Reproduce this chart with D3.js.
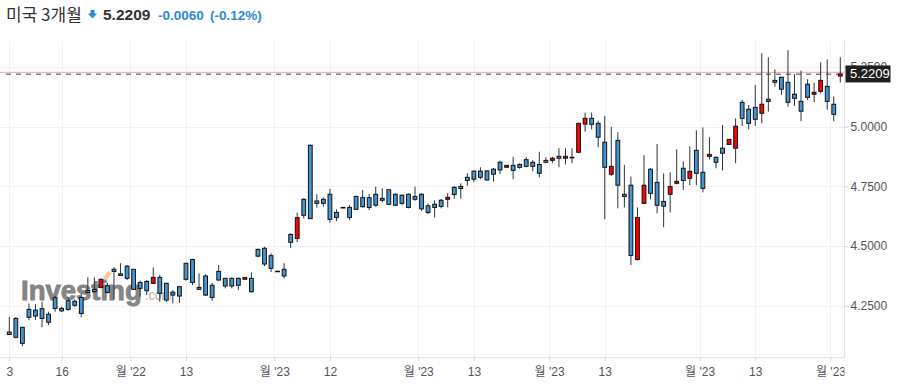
<!DOCTYPE html>
<html><head><meta charset="utf-8">
<script src="https://d3js.org/d3.v7.min.js"></script>
<style>
html,body{margin:0;padding:0;background:#fff;}
svg{display:block;}
</style></head><body>
<svg id="chart" width="897" height="385"></svg>
<script>
// ---- data ----
const open  = [4.140,4.197,4.160,4.235,4.232,4.238,4.215,4.284,4.239,4.271,
               4.269,4.285,4.315,4.319,4.327,4.334,4.403,4.384,4.416,4.403,
               4.348,4.352,4.344,4.369,4.344,4.307,4.330,4.428,4.444,4.327,
               4.375,4.336,4.394,4.365,4.365,4.365,4.361,4.365,4.486,4.491,
               4.460,4.395,4.403,4.549,4.532,4.696,4.922,4.689,4.696,4.717,
               4.641,4.662,4.662,4.708,4.703,4.703,4.717,4.700,4.736,4.717,
               4.713,4.717,4.708,4.717,4.669,4.675,4.692,4.696,4.746,4.750,
               4.788,4.814,4.814,4.815,4.822,4.851,4.830,4.838,4.842,4.862,
               4.851,4.842,4.859,4.859,4.876,4.868,4.872,4.893,5.011,5.035,
               5.014,4.935,4.801,4.943,4.717,4.755,4.444,4.679,4.822,4.767,
               4.687,4.717,4.763,4.826,4.784,4.901,4.809,4.876,4.872,4.910,
               4.926,4.910,5.102,5.073,5.081,5.056,5.115,5.194,5.207,5.186,
               5.136,5.106,5.178,5.136,5.148,5.169,5.094,5.212];
const high  = [4.204,4.203,4.161,4.260,4.257,4.267,4.225,4.291,4.246,4.285,
               4.277,4.302,4.369,4.369,4.365,4.346,4.411,4.428,4.421,4.404,
               4.355,4.358,4.411,4.379,4.347,4.316,4.334,4.430,4.447,4.386,
               4.382,4.346,4.421,4.367,4.369,4.369,4.369,4.390,4.491,4.497,
               4.470,4.395,4.428,4.553,4.640,4.700,4.926,4.717,4.703,4.740,
               4.654,4.662,4.672,4.711,4.735,4.718,4.749,4.742,4.738,4.721,
               4.717,4.721,4.749,4.721,4.679,4.692,4.697,4.721,4.752,4.763,
               4.805,4.817,4.830,4.815,4.827,4.858,4.838,4.874,4.847,4.872,
               4.860,4.895,4.872,4.874,4.910,4.910,4.910,5.017,5.059,5.059,
               5.025,5.045,5.000,4.977,4.840,4.791,4.662,4.881,4.826,4.928,
               4.805,4.809,4.905,4.855,4.918,4.985,4.997,4.956,4.874,5.007,
               4.947,5.035,5.112,5.091,5.175,5.308,5.291,5.240,5.209,5.321,
               5.220,5.235,5.199,5.184,5.270,5.282,5.127,5.291];
const low   = [4.127,4.114,4.081,4.190,4.190,4.160,4.169,4.225,4.224,4.229,
               4.246,4.202,4.302,4.305,4.323,4.302,4.277,4.375,4.358,4.316,
               4.288,4.295,4.341,4.267,4.266,4.260,4.263,4.355,4.337,4.316,
               4.291,4.271,4.354,4.323,4.323,4.316,4.361,4.305,4.453,4.416,
               4.391,4.395,4.365,4.492,4.516,4.616,4.613,4.661,4.665,4.598,
               4.605,4.662,4.609,4.651,4.661,4.651,4.665,4.683,4.673,4.668,
               4.672,4.658,4.690,4.647,4.634,4.620,4.658,4.662,4.698,4.698,
               4.752,4.768,4.780,4.774,4.770,4.802,4.830,4.780,4.824,4.830,
               4.813,4.788,4.847,4.847,4.830,4.842,4.847,4.889,4.979,4.989,
               4.914,4.612,4.793,4.658,4.662,4.421,4.439,4.676,4.696,4.637,
               4.579,4.641,4.759,4.735,4.755,4.755,4.725,4.863,4.826,4.817,
               4.923,4.847,5.003,4.989,5.003,5.014,5.063,5.168,5.133,5.084,
               5.087,5.023,5.112,5.102,5.140,5.071,5.023,5.186];
const close = [4.130,4.118,4.093,4.202,4.207,4.197,4.181,4.239,4.229,4.235,
               4.252,4.218,4.306,4.309,4.361,4.306,4.394,4.377,4.365,4.319,
               4.323,4.313,4.369,4.302,4.274,4.295,4.291,4.361,4.348,4.319,
               4.295,4.285,4.358,4.333,4.333,4.336,4.369,4.309,4.458,4.425,
               4.407,4.395,4.375,4.516,4.619,4.629,4.615,4.679,4.679,4.612,
               4.620,4.662,4.620,4.654,4.665,4.662,4.671,4.692,4.675,4.671,
               4.679,4.662,4.696,4.656,4.641,4.662,4.666,4.704,4.716,4.741,
               4.775,4.780,4.788,4.777,4.801,4.819,4.838,4.817,4.830,4.834,
               4.834,4.805,4.851,4.868,4.868,4.876,4.872,5.014,5.035,5.010,
               4.956,4.830,4.834,4.755,4.708,4.461,4.620,4.755,4.721,4.671,
               4.667,4.750,4.771,4.775,4.813,4.805,4.742,4.884,4.851,4.889,
               4.947,5.002,5.035,5.014,5.031,5.094,5.106,5.186,5.157,5.102,
               5.119,5.065,5.123,5.144,5.194,5.106,5.052,5.2209];
const yTicks = [4.25, 4.5, 4.75, 5.0, 5.25];
const xTickIndex  = [0, 8, 18.5, 27, 40.5, 49, 62.5, 71, 82.5, 91, 105.5, 114, 125.5];
const xTickLabels = ["3","16","월 '22","13","월 '23","12","월 '23","13","월 '23","13","월 '23","13","월 '23"];
const titleName = "미국 3개월";
const lastPrice = 5.2209;
const changeAbs = "-0.0060";
const changePct = "(-0.12%)";

// ---- chart ----
const svg = d3.select("#chart");
const n = close.length;
const plotRight = 844.5, plotTop = 41, plotBottom = 357;
const x = d3.scaleLinear().domain([0, n - 1]).range([9.3, 840.3]);
const y = d3.scaleLinear().domain([4.0356, 5.3589]).range([plotBottom, plotTop]);
const FONT = "'Liberation Sans', Arial, 'Noto Sans CJK KR', sans-serif";
const BLUE = "#4196d6", RED = "#ff0000";

// grid
svg.append("g").selectAll("line").data(yTicks).join("line")
  .attr("x1", 0).attr("x2", plotRight)
  .attr("y1", d => Math.round(y(d)) + 0.5).attr("y2", d => Math.round(y(d)) + 0.5)
  .attr("stroke", "#f1f1f1");
svg.append("g").selectAll("line").data(xTickIndex).join("line")
  .attr("x1", d => Math.round(x(d)) + 0.5).attr("x2", d => Math.round(x(d)) + 0.5)
  .attr("y1", plotTop).attr("y2", plotBottom)
  .attr("stroke", "#f1f1f1");

// watermark
const wm = svg.append("g");
wm.append("text").attr("x", 21).attr("y", 300)
  .attr("font-family", FONT).attr("font-weight", "bold").attr("font-size", 27.5)
  .attr("fill", "#858585").attr("stroke", "#858585").attr("stroke-width", 0.9)
  .text("Investing");
wm.append("text").attr("x", 145).attr("y", 300)
  .attr("font-family", FONT).attr("font-size", 15)
  .attr("textLength", 27).attr("lengthAdjust", "spacingAndGlyphs")
  .attr("fill", "#b0b0b0").text(".com");
wm.append("path").attr("d", "M103,278 L108,271 L112,273 L107,280 Z").attr("fill", "#f7c98c");

// axes lines
svg.append("line").attr("x1", plotRight).attr("x2", plotRight)
  .attr("y1", plotTop).attr("y2", plotBottom + 1).attr("stroke", "#e1e4ea");
svg.append("line").attr("x1", 0).attr("x2", plotRight)
  .attr("y1", plotBottom + 0.5).attr("y2", plotBottom + 0.5).attr("stroke", "#e1e4ea");

// price lines
const yp = y(lastPrice);
svg.append("line").attr("x1", 0).attr("x2", plotRight)
  .attr("y1", yp - 1.6).attr("y2", yp - 1.6).attr("stroke", "#f7b3b3").attr("stroke-width", 1.3);
svg.append("line").attr("x1", 6).attr("x2", plotRight)
  .attr("y1", yp + 0.3).attr("y2", yp + 0.3).attr("stroke", "#808080")
  .attr("stroke-width", 1.4).attr("stroke-dasharray", "5,5");

// candles
const idx = d3.range(n);
const cg = svg.append("g");
cg.selectAll("line.wick").data(idx).join("line").attr("class", "wick")
  .attr("x1", i => x(i)).attr("x2", i => x(i))
  .attr("y1", i => y(high[i])).attr("y2", i => y(low[i]))
  .attr("stroke", "#2e3338").attr("stroke-width", 1);
cg.selectAll("rect.body").data(idx).join("rect").attr("class", "body")
  .attr("x", i => x(i) - 1.9).attr("width", 3.8)
  .attr("y", i => y(Math.max(open[i], close[i])))
  .attr("height", i => Math.max(0.6, Math.abs(y(open[i]) - y(close[i]))))
  .attr("fill", i => close[i] > open[i] ? RED : BLUE)
  .attr("stroke", "#111").attr("stroke-width", 1);

// y axis (right)
const ya = svg.append("g").attr("transform", `translate(${plotRight},0)`)
  .call(d3.axisRight(y).tickValues(yTicks).tickFormat(d3.format(".4f")).tickSize(4).tickPadding(2));
ya.select(".domain").remove();
ya.selectAll(".tick line").attr("stroke", "#d5d8de");
ya.selectAll(".tick text").attr("font-family", FONT).attr("font-size", 12).attr("fill", "#555");

// x axis (bottom) — labels clipped at the right axis, clip in the group's local space
svg.append("clipPath").attr("id", "xclip").append("rect")
  .attr("x", -5).attr("y", 0).attr("width", plotRight + 5).attr("height", 30);
const xa = svg.append("g").attr("transform", `translate(0,${plotBottom})`)
  .attr("clip-path", "url(#xclip)")
  .call(d3.axisBottom(x).tickValues(xTickIndex).tickFormat((d, i) => xTickLabels[i]).tickSize(4).tickPadding(6));
xa.select(".domain").remove();
xa.selectAll(".tick line").attr("stroke", "#d5d8de");
xa.selectAll(".tick text").attr("font-family", FONT).attr("font-size", 12).attr("fill", "#555");

// price box
svg.append("rect").attr("x", plotRight + 1).attr("y", yp - 8.5)
  .attr("width", 45).attr("height", 17).attr("fill", "#1f1f1f");
svg.append("text").attr("x", plotRight + 5.5).attr("y", yp + 4.5)
  .attr("font-family", FONT).attr("font-size", 13).attr("fill", "#fff")
  .text(d3.format(".4f")(lastPrice));

// header
const hd = svg.append("g");
hd.append("text").attr("x", 6).attr("y", 20.5)
  .attr("font-family", "'Noto Sans CJK KR', sans-serif").attr("font-size", 17)
  .attr("fill", "#333").text(titleName);
hd.append("path").attr("d", "M90.5,10 L94.5,10 L94.5,13.5 L97,13.5 L92.5,18.5 L88,13.5 L90.5,13.5 Z")
  .attr("fill", "#2b8ad8");
hd.append("text").attr("x", 103).attr("y", 19.5)
  .attr("font-family", FONT).attr("font-weight", "bold").attr("font-size", 15.5)
  .attr("fill", "#333").text(d3.format(".4f")(lastPrice));
hd.append("text").attr("x", 158).attr("y", 19.5)
  .attr("font-family", FONT).attr("font-weight", "bold").attr("font-size", 13.5)
  .attr("fill", "#2b8ad8").text(changeAbs);
hd.append("text").attr("x", 210).attr("y", 19.5)
  .attr("font-family", FONT).attr("font-weight", "bold").attr("font-size", 13.5)
  .attr("fill", "#2b8ad8").text(changePct);
</script>
</body></html>
